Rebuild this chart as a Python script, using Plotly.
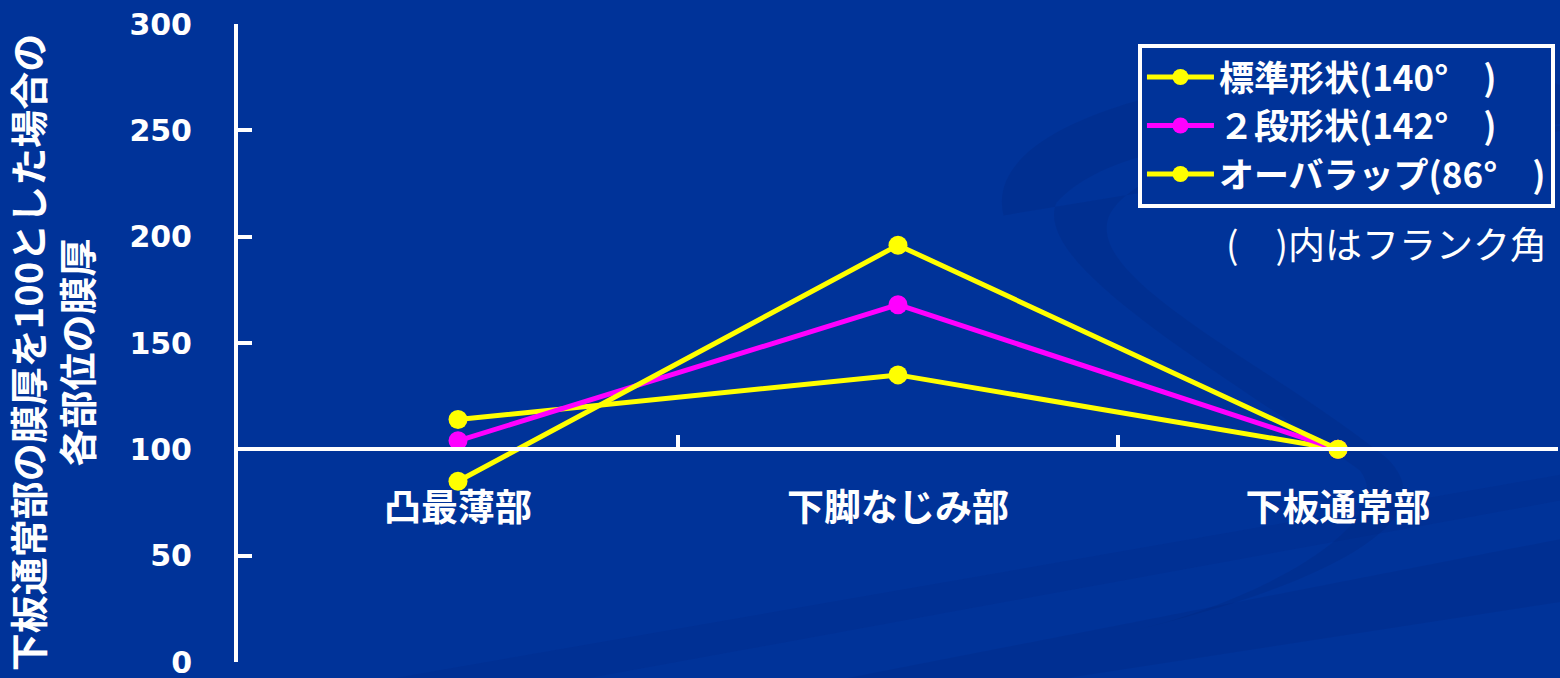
import plotly.graph_objects as go

# Measurement positions along the sheet
categories = ["凸最薄部", "下脚なじみ部", "下板通常部"]

# Relative film thickness (下板通常部 = 100) for each flange shape
standard_shape = [114, 135, 100]
two_step_shape = [104, 168, 100]
overlap_shape = [85, 196, 100]

series_names = ["標準形状(140°　)", "２段形状(142°　)", "オーバラップ(86°　)"]
series_colors = ["#FFFF00", "#FF00FF", "#FFFF00"]

y_ticks = [0, 50, 100, 150, 200, 250, 300]

BG = "#003399"
JP_FONT = "Noto Sans CJK JP"

fig = go.Figure()

for name, values, color in zip(series_names,
                               [standard_shape, two_step_shape, overlap_shape],
                               series_colors):
    fig.add_trace(go.Scatter(
        x=categories,
        y=values,
        xaxis="x2",
        yaxis="y",
        name=name,
        mode="lines+markers",
        line=dict(color=color, width=5),
        marker=dict(color=color, size=19),
    ))

# Faint decorative swirls in the background
swirl = "rgba(0, 35, 120, 0.22)"
fig.add_shape(type="path", xref="paper", yref="paper", layer="below",
              path="M 0.58,0.70 C 0.55,0.95 1.05,1.00 1.02,0.85 "
                   "C 1.00,0.78 0.70,0.90 0.62,0.72 C 0.60,0.62 0.75,0.45 0.85,0.30 "
                   "C 0.88,0.22 0.78,0.10 0.68,0.05 C 0.82,0.12 0.92,0.22 0.87,0.32 "
                   "C 0.78,0.47 0.64,0.60 0.66,0.70 C 0.70,0.85 0.95,0.80 1.02,0.85 Z",
              fillcolor=swirl, line=dict(width=0))
fig.add_shape(type="path", xref="paper", yref="paper", layer="below",
              path="M 0.40,-0.05 L 1.02,0.20 L 1.02,0.10 L 0.55,-0.05 Z",
              fillcolor="rgba(0, 35, 120, 0.2)", line=dict(width=0))
fig.add_shape(type="path", xref="paper", yref="paper", layer="below",
              path="M 0.05,-0.05 L 1.02,0.30 L 1.02,0.26 L 0.20,-0.05 Z",
              fillcolor="rgba(0, 35, 120, 0.15)", line=dict(width=0))

fig.update_layout(
    width=1560,
    height=678,
    margin=dict(l=238, r=2, t=24, b=16, autoexpand=False),
    paper_bgcolor=BG,
    plot_bgcolor=BG,
    font=dict(family=JP_FONT, color="white"),
    showlegend=True,
    legend=dict(
        x=0.9977, xanchor="right",
        y=0.969, yanchor="top",
        bgcolor=BG,
        bordercolor="white",
        borderwidth=4,
        font=dict(family=JP_FONT, size=35, color="white", weight="bold"),
        itemwidth=67,
        traceorder="normal",
    ),
    # bottom axis only anchors the value axis; it draws nothing
    xaxis=dict(
        range=[-0.5, 2.5],
        showline=False,
        showticklabels=False,
        ticks="",
        showgrid=False,
        zeroline=False,
        automargin=False,
    ),
    # category axis drawn across the plot at the 100 level
    xaxis2=dict(
        type="category",
        range=[-0.5, 2.5],
        overlaying="x",
        anchor="free",
        position=1 / 3,
        side="bottom",
        showline=True,
        linecolor="white",
        linewidth=4,
        ticks="inside",
        tickson="boundaries",
        ticklen=12,
        tickwidth=4,
        tickcolor="white",
        showgrid=False,
        zeroline=False,
        automargin=False,
        ticklabelstandoff=25,
        tickfont=dict(family=JP_FONT, size=37, color="white", weight="bold"),
    ),
    yaxis=dict(
        range=[0, 300],
        tickvals=y_ticks,
        anchor="x",
        side="left",
        showline=True,
        linecolor="white",
        linewidth=4,
        ticks="inside",
        ticklen=14,
        tickwidth=4,
        tickcolor="white",
        showgrid=False,
        zeroline=False,
        automargin=False,
        ticklabelstandoff=36,
        ticklabeloverflow="allow",
        tickfont=dict(family="DejaVu Sans", size=30, color="white", weight="bold"),
    ),
    annotations=[
        dict(
            text="下板通常部の膜厚を100とした場合の<br>各部位の膜厚",
            xref="paper", yref="paper",
            x=-0.142, y=0.485,
            xanchor="center", yanchor="middle",
            textangle=-90,
            showarrow=False,
            font=dict(family=JP_FONT, size=38, color="white", weight="bold"),
        ),
        dict(
            text="(　)内はフランク角",
            xref="paper", yref="paper",
            x=0.9933, y=0.656,
            xanchor="right", yanchor="middle",
            showarrow=False,
            font=dict(family=JP_FONT, size=37, color="white"),
        ),
    ],
)

fig.write_html("out.html")
